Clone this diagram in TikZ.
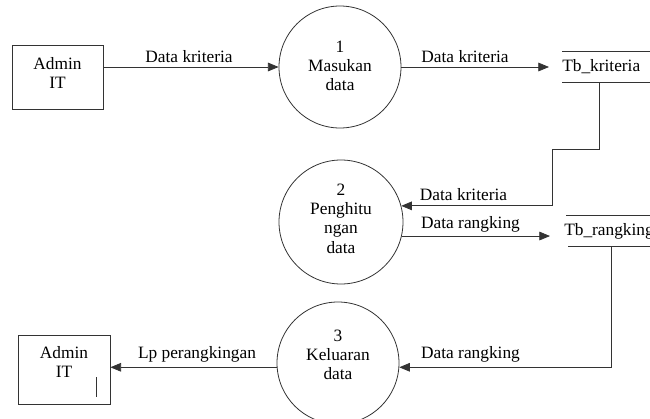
\documentclass[tikz,border=0pt]{standalone}
\usepackage{fontspec}
\setmainfont{Liberation Serif}
\usetikzlibrary{arrows.meta,calc}
\begin{document}
\begin{tikzpicture}[x=0.75pt,y=-0.75pt,
  every node/.style={font=\fontsize{13}{14.5}\selectfont, text=black},
  ln/.style={draw=black!80, line width=0.6pt},
  flow/.style={ln, -{Triangle[length=8pt,width=6.5pt]}},
  ent/.style={draw=black!80, line width=0.6pt, inner sep=0},
  proc/.style={circle, draw=black!80, line width=0.6pt, inner sep=0},
  ptxt/.style={align=center, inner sep=0, anchor=north},
  lbl/.style={anchor=base, inner sep=0},
  store/.style={inner sep=0, minimum height=22.5pt, align=left, anchor=west}]
\useasboundingbox (0,0) rectangle (650,418);
\clip (0,0) rectangle (650,418);

% external entities
\node[ent, minimum width=68.25pt, minimum height=48pt] (a1) at (57.5,77) {};
\node[ptxt] (a1t) at (57.5,57) {Admin\\IT};
\node[ent, minimum width=69pt, minimum height=51.75pt] (a2) at (64,369.5) {};
\node[ptxt] (a2t) at (64,346) {Admin\\IT};
\draw[ln] (96,377) -- (96,397);

% processes
\node[proc, minimum size=91.5pt] (p1) at (340,67) {};
\node[ptxt] (p1t) at (340,40.5) {1\\Masukan\\data};
\node[proc, minimum size=93pt] (p2) at (341,222) {};
\node[ptxt] (p2t) at (341,183.3) {2\\Penghitu\\ngan\\data};
\node[proc, minimum size=91.5pt] (p3) at (338,363) {};
\node[ptxt] (p3t) at (338,329.3) {3\\Keluaran\\data};

% data stores
\node[store, text width=66pt] (tk) at (562,67) {Tb\_kriteria};
\draw[ln] (tk.north west) -- (tk.north east);
\draw[ln] (tk.south west) -- (tk.south east);
\node[store, text width=64.5pt] (tr) at (564,231) {Tb\_rangking};
\draw[ln] ($(tr.north west)+(2,0)$) -- (tr.north east);
\draw[ln] ($(tr.south west)+(4,0)$) -- (tr.south east);

% flows
\draw[flow] (a1.east |- p1.west) -- (p1.west);
\draw[flow] (p1.east) -- ($(tk.west)+(-13,0)$);
\draw[flow] ($(tk.south west)+(37,0)$) |- ($(p2.15)+(151,-56)$) |- (p2.15);
\draw[flow] (p2.-13) -- ($(p2.-13 -| tr.west)+(-14,0)$);
\draw[flow] ($(tr.south west)+(47,0)$) |- (p3.-4);
\draw[flow] (p3.184) -- (p3.184 -| a2.east);

% labels
\node[lbl] (l1) at (189,62) {Data kriteria};
\node[lbl] (l2) at (465,62) {Data kriteria};
\node[lbl] (l3) at (463.5,200) {Data kriteria};
\node[lbl] (l4) at (470.5,228) {Data rangking};
\node[lbl] (l5) at (470.5,358) {Data rangking};
\node[lbl] (l6) at (197,358) {Lp perangkingan};
\end{tikzpicture}
\end{document}
